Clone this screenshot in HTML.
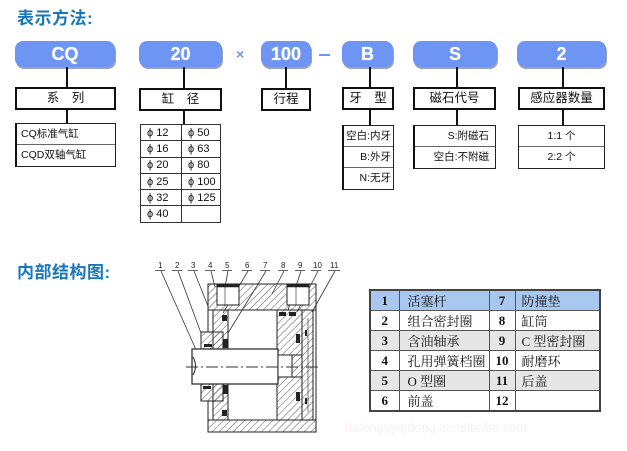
<!DOCTYPE html>
<html><head><meta charset="utf-8">
<style>
*{margin:0;padding:0;box-sizing:border-box}
body{width:627px;height:451px;background:#fff;position:relative;overflow:hidden;font-family:"Liberation Sans","Noto Sans CJK SC",sans-serif;color:#111}
.a{position:absolute}
.title{font-size:17px;font-weight:bold;color:#1677bd;letter-spacing:0.5px;font-family:"Liberation Sans","Noto Sans CJK SC",sans-serif}
.pill{position:absolute;height:26px;background:#6e95f4;border-radius:8px;box-shadow:1px 2px 0 #9aa3b8;color:#fff;font-weight:bold;font-size:18px;line-height:26px;text-align:center;text-shadow:0 0 1px #dde}
.lbl{position:absolute;height:23px;border:2px solid #111;background:#fff;font-size:12.5px;line-height:19px;text-align:center}
.vl{position:absolute;width:1.5px;background:#111}
.lst{position:absolute;border:1px solid #222;border-left:2px solid #111;background:#fff;font-size:10.5px}
.lst div{border-bottom:1px solid #666;height:21px;line-height:20px;padding:0 4px}
.lst div:last-child{border-bottom:none}
table.d{position:absolute;border-collapse:collapse;font-size:11px}
table.d td{border:1px solid #333;height:16.3px;padding:0 0 0 6px;line-height:14px}
table.p{position:absolute;left:369px;top:289px;width:232px;height:119px;border-collapse:collapse;border:2px solid #444;font-family:"Liberation Serif","Noto Serif CJK SC",serif;font-size:13px}
table.p td{border:1px solid #555;height:19.8px;padding:0}
table.p td.n{text-align:center;font-weight:bold}
table.p td.t{padding-left:8px}
</style></head><body>

<div class="a title" style="left:17px;top:4px">表示方法:</div>

<div class="pill" style="left:15px;top:41px;width:100px">CQ</div>
<div class="pill" style="left:139px;top:41px;width:83px">20</div>
<div class="a" style="left:236px;top:46px;font-size:14px;color:#6e95f4;font-weight:bold">×</div>
<div class="pill" style="left:261px;top:41px;width:50px">100</div>
<div class="a" style="left:319px;top:54px;width:11px;height:2px;background:#6e95f4"></div>
<div class="pill" style="left:342px;top:41px;width:51px">B</div>
<div class="pill" style="left:413px;top:41px;width:84px">S</div>
<div class="pill" style="left:517px;top:41px;width:89px">2</div>

<div class="vl" style="left:66px;top:67px;height:20px"></div>
<div class="vl" style="left:183px;top:67px;height:21px"></div>
<div class="vl" style="left:285px;top:67px;height:21px"></div>
<div class="vl" style="left:369px;top:67px;height:20px"></div>
<div class="vl" style="left:456px;top:67px;height:20px"></div>
<div class="vl" style="left:562px;top:67px;height:20px"></div>

<div class="lbl" style="left:15px;top:87px;width:101px">系　列</div>
<div class="lbl" style="left:139px;top:88px;width:83px">缸　径</div>
<div class="lbl" style="left:261px;top:88px;width:50px">行程</div>
<div class="lbl" style="left:342px;top:87px;width:52px">牙　型</div>
<div class="lbl" style="left:413px;top:87px;width:83px">磁石代号</div>
<div class="lbl" style="left:518px;top:87px;width:87px">感应器数量</div>

<div class="vl" style="left:66px;top:110px;height:13px"></div>
<div class="vl" style="left:183px;top:110px;height:14px"></div>
<div class="vl" style="left:369px;top:110px;height:15px"></div>
<div class="vl" style="left:456px;top:110px;height:15px"></div>
<div class="vl" style="left:562px;top:110px;height:15px"></div>

<div class="lst" style="left:15px;top:123px;width:101px">
<div>CQ标准气缸</div><div>CQD双轴气缸</div></div>

<table class="d" style="left:140px;top:124px;width:81px;border:1.5px solid #222">
<tr><td style="width:41px">ϕ 12</td><td>ϕ 50</td></tr>
<tr><td>ϕ 16</td><td>ϕ 63</td></tr>
<tr><td>ϕ 20</td><td>ϕ 80</td></tr>
<tr><td>ϕ 25</td><td>ϕ 100</td></tr>
<tr><td>ϕ 32</td><td>ϕ 125</td></tr>
<tr><td>ϕ 40</td><td></td></tr>
</table>

<div class="lst" style="left:342px;top:125px;width:52px;text-align:right">
<div style="padding:0 2px">空白:内牙</div><div style="padding:0 2px">B:外牙</div><div style="padding:0 2px">N:无牙</div></div>

<div class="lst" style="left:413px;top:125px;width:83px;text-align:right">
<div style="padding:0 6px">S:附磁石</div><div style="padding:0 6px">空白:不附磁</div></div>

<div class="lst" style="left:518px;top:125px;width:87px;text-align:center;border-left:1px solid #222">
<div>1:1 个</div><div>2:2 个</div></div>

<div class="a title" style="left:17px;top:258px">内部结构图:</div>

<svg class="a" style="left:0;top:0" width="627" height="451" viewBox="0 0 627 451">
<defs>
<pattern id="h" patternUnits="userSpaceOnUse" width="5" height="5" patternTransform="rotate(45)">
<line x1="0" y1="0" x2="0" y2="5" stroke="#444" stroke-width="0.9"/></pattern>
</defs>
<g font-family="Liberation Sans,sans-serif" font-size="8" fill="#222">
<text x="158" y="268">1</text><text x="175" y="268">2</text><text x="191" y="268">3</text>
<text x="208" y="268">4</text><text x="225" y="268">5</text><text x="245" y="268">6</text>
<text x="263" y="268">7</text><text x="281" y="268">8</text><text x="298" y="268">9</text>
<text x="313" y="268">10</text><text x="330" y="268">11</text>
</g>
<g stroke="#333" stroke-width="0.8" fill="none">
<path d="M155 270.5h10M172 270.5h10M188 270.5h10M205 270.5h10M222 270.5h10M242 270.5h10M260 270.5h10M278 270.5h10M295 270.5h10M311 270.5h10M328 270.5h12"/>
<path d="M161 271L197 352M178 271L201 333M194 271L208 306M211 271L215 287M228 271L225 287M248 271L223 313M266 271L228 333M284 271L272 294M301 271L288 310M318 271L297 312M335 271L312 312"/>
</g>
<g stroke="#222" stroke-width="1">
<rect x="208" y="284" width="108" height="26" fill="url(#h)"/>
<rect x="217" y="285" width="22" height="20" fill="#fff"/>
<rect x="287" y="285" width="22" height="20" fill="#fff"/>
<line x1="217" y1="286" x2="239" y2="286" stroke-width="2.5"/>
<line x1="287" y1="286" x2="309" y2="286" stroke-width="2.5"/>
<line x1="225" y1="286" x2="225" y2="305" stroke-width="0.6"/>
<line x1="296" y1="286" x2="296" y2="305" stroke-width="0.6"/>
<rect x="208" y="420" width="108" height="12" fill="url(#h)"/>
<rect x="208" y="310" width="5" height="22" fill="#fff"/>
<rect x="208" y="401" width="5" height="19" fill="#fff"/>
<rect x="213" y="310" width="15" height="39" fill="url(#h)"/>
<rect x="213" y="384" width="15" height="36" fill="url(#h)"/>
<rect x="201" y="332" width="22" height="17" fill="url(#h)"/>
<rect x="201" y="384" width="22" height="17" fill="url(#h)"/>
<rect x="277" y="310" width="25" height="45" fill="url(#h)"/>
<rect x="277" y="377" width="25" height="43" fill="url(#h)"/>
<rect x="292" y="355" width="10" height="22" fill="url(#h)"/>
<rect x="302" y="310" width="11" height="110" fill="url(#h)"/>
<rect x="313" y="310" width="3" height="110" fill="#fff"/>
<line x1="308" y1="318" x2="308" y2="412" stroke-width="0.6"/>
<rect x="192" y="349" width="86" height="35" fill="#fff" stroke-width="1.2"/>
<rect x="278" y="355" width="14" height="22" fill="#fff"/>
<path d="M193 357q5 9 0 18" fill="none"/>
</g>
<g fill="#222">
<rect x="222" y="315" width="5" height="6"/><rect x="223" y="339" width="5" height="9"/>
<rect x="223" y="385" width="5" height="9"/><rect x="222" y="410" width="5" height="6"/>
<rect x="279" y="312" width="7" height="4"/><rect x="289" y="312" width="7" height="4"/>
<rect x="296" y="334" width="4" height="9"/><rect x="296" y="392" width="4" height="9"/>
<rect x="305" y="330" width="2" height="6"/><rect x="305" y="398" width="2" height="6"/>
<rect x="203" y="386" width="8" height="3"/><rect x="204" y="344" width="8" height="3"/>
</g>
<line x1="186" y1="367" x2="320" y2="367" stroke="#333" stroke-width="1" stroke-dasharray="12 3 2 3"/>
<text x="345" y="432" font-family="Liberation Sans,sans-serif" font-size="13" fill="#faf0f3">dalongyyqidong.cn.alibaba.com</text>
</svg>

<table class="p">
<tr style="background:#a9c8ef"><td class="n" style="width:29px">1</td><td class="t" style="width:90px">活塞杆</td><td class="n" style="width:26px">7</td><td class="t" style="padding-left:6px">防撞垫</td></tr>
<tr><td class="n">2</td><td class="t">组合密封圈</td><td class="n">8</td><td class="t" style="padding-left:6px">缸筒</td></tr>
<tr style="background:#e6e6e6"><td class="n">3</td><td class="t">含油轴承</td><td class="n">9</td><td class="t" style="padding-left:6px">C 型密封圈</td></tr>
<tr><td class="n">4</td><td class="t">孔用弹簧档圈</td><td class="n">10</td><td class="t" style="padding-left:6px">耐磨环</td></tr>
<tr style="background:#e6e6e6"><td class="n">5</td><td class="t">O 型圈</td><td class="n">11</td><td class="t" style="padding-left:6px">后盖</td></tr>
<tr><td class="n">6</td><td class="t">前盖</td><td class="n">12</td><td class="t"></td></tr>
</table>

</body></html>
